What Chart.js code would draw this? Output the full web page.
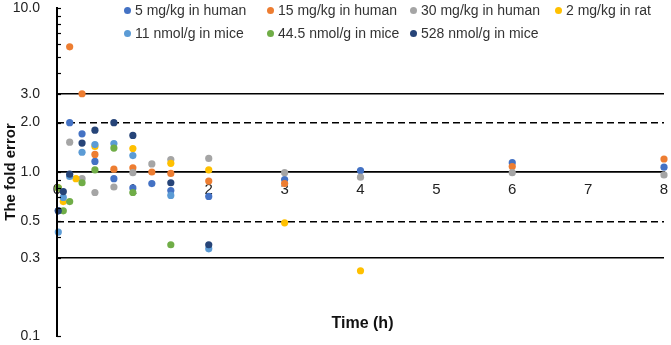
<!DOCTYPE html>
<html>
<head>
<meta charset="utf-8">
<script src="https://cdn.jsdelivr.net/npm/chart.js@4.4.1/dist/chart.umd.min.js"></script>
<style>
  body { margin: 0; background: #fff; }
  #wrap { position: relative; width: 671px; height: 345px; font-family: "Liberation Sans", Arial, sans-serif; }
  #legend .item { position: absolute; font-size: 14px; color: #333; white-space: nowrap; line-height: 16px; }
  #legend .dot { display: inline-block; width: 7px; height: 7px; border-radius: 50%; margin-right: 4px; vertical-align: 1px; }
  #xtitle { position: absolute; left: 0; width: 671px; top: 314px; text-align: center; padding-left: 54px; box-sizing: border-box;
            font-size: 16px; font-weight: bold; color: #111; }
</style>
</head>
<body>
<div id="wrap">
  <canvas id="foldErrorChart" width="671" height="345"></canvas>
  <div id="legend"></div>
  <div id="xtitle">Time (h)</div>
</div>
<script>
// series names (legend order)
const seriesNames = [
    '5 mg/kg in human', '15 mg/kg in human', '30 mg/kg in human', '2 mg/kg in rat',
    '11 nmol/g in mice', '44.5 nmol/g in mice', '528 nmol/g in mice'
];

// time (h) and fold error
const time5mgHuman = [0.017, 0.167, 0.33, 0.5, 0.75, 1, 1.25, 1.5, 2, 3, 4, 6, 8];
const fold5mgHuman = [0.58, 2.0, 1.71, 1.16, 0.91, 0.80, 0.85, 0.77, 0.71, 0.90, 1.02, 1.14, 1.07];

const time15mgHuman = [0.167, 0.33, 0.5, 0.75, 1, 1.25, 1.5, 2, 3, 6, 8];
const fold15mgHuman = [5.8, 3.0, 1.28, 1.04, 1.06, 1.0, 0.98, 0.88, 0.85, 1.08, 1.20];

const time30mgHuman = [0.167, 0.33, 0.5, 0.75, 1, 1.25, 1.5, 2, 3, 4, 6, 8];
const fold30mgHuman = [1.52, 0.91, 0.75, 0.81, 0.99, 1.12, 1.19, 1.21, 0.99, 0.93, 0.99, 0.96];

const time2mgRat = [0.017, 0.083, 0.25, 0.5, 1, 1.5, 2, 3, 4];
const fold2mgRat = [0.80, 0.66, 0.91, 1.43, 1.39, 1.13, 1.03, 0.49, 0.25];

const time11nmolMice = [0.017, 0.083, 0.167, 0.33, 0.5, 0.75, 1, 1.5, 2];
const fold11nmolMice = [0.43, 0.70, 0.94, 1.32, 1.47, 1.49, 1.26, 0.72, 0.34];

const time44nmolMice = [0.017, 0.083, 0.167, 0.33, 0.5, 0.75, 1, 1.5];
const fold44nmolMice = [0.80, 0.58, 0.66, 0.86, 1.03, 1.40, 0.75, 0.36];

const time528nmolMice = [0.017, 0.083, 0.167, 0.33, 0.5, 0.75, 1, 1.5, 2];
const fold528nmolMice = [0.58, 0.76, 0.97, 1.50, 1.80, 2.0, 1.67, 0.86, 0.36];

const seriesTimes = [time5mgHuman, time15mgHuman, time30mgHuman, time2mgRat, time11nmolMice, time44nmolMice, time528nmolMice];
const seriesFolds = [fold5mgHuman, fold15mgHuman, fold30mgHuman, fold2mgRat, fold11nmolMice, fold44nmolMice, fold528nmolMice];
const seriesColors = ['#4472C4', '#ED7D31', '#A5A5A5', '#FFC000', '#5B9BD5', '#70AD47', '#264478'];

// y axis: log ticks, only some are labelled
const yTicks = [0.1, 0.2, 0.3, 0.4, 0.5, 0.6, 0.7, 0.8, 0.9, 1, 2, 3, 4, 5, 6, 7, 8, 9, 10];
const yLabels = { 0.1: '0.1', 0.3: '0.3', 0.5: '0.5', 1: '1.0', 2: '2.0', 3: '3.0', 10: '10.0' };
const solidLines = [0.3, 1, 3];
const dashedLines = [0.5, 2];

// legend (html, grid like the original)
const legendCols = [124, 267, 410, 555];
const legendRows = [2, 25];
const legendEl = document.getElementById('legend');
seriesNames.forEach((name, i) => {
    const item = document.createElement('div');
    item.className = 'item';
    item.style.left = legendCols[i < 4 ? i : i - 4] + 'px';
    item.style.top = legendRows[i < 4 ? 0 : 1] + 'px';
    item.innerHTML = '<span class="dot" style="background:' + seriesColors[i] + '"></span>' + name;
    legendEl.appendChild(item);
});

// y axis line at the left of the plot with small inward ticks
const yAxisLine = {
    id: 'yAxisLine',
    afterDraw(chart) {
        const c = chart.ctx;
        const ys = chart.scales.y;
        const px = Math.round(chart.chartArea.left);
        c.save();
        c.strokeStyle = '#000';
        c.lineWidth = 2;
        c.beginPath();
        c.moveTo(px, ys.top - 1);
        c.lineTo(px, ys.bottom + 1);
        c.stroke();
        c.lineWidth = 1.2;
        yTicks.forEach(v => {
            const py = Math.round(ys.getPixelForValue(v)) + 0.5;
            c.beginPath();
            c.moveTo(px, py);
            c.lineTo(px + 4, py);
            c.stroke();
        });
        c.restore();
    }
};

const datasets = seriesNames.map((name, i) => ({
    label: name,
    data: seriesTimes[i].map((t, j) => ({ x: t, y: seriesFolds[i][j] })),
    backgroundColor: seriesColors[i],
    borderWidth: 0,
    pointRadius: 3.6,
    pointHoverRadius: 4,
    clip: false,
    order: -i
}));

const ctx = document.getElementById('foldErrorChart').getContext('2d');
new Chart(ctx, {
    type: 'scatter',
    data: { datasets: datasets },
    plugins: [yAxisLine],
    options: {
        responsive: false,
        animation: false,
        layout: { padding: { top: 8, bottom: 9, right: 7, left: 0 } },
        plugins: {
            legend: { display: false },
            tooltip: { enabled: true }
        },
        scales: {
            x: {
                type: 'linear',
                min: 0,
                max: 8,
                position: { y: 1 },
                afterFit: (scale) => {
                    scale.height = 0;
                    scale.paddingLeft = 0;
                    scale.paddingRight = 0;
                },
                grid: { display: false, drawTicks: false },
                border: { display: true, color: '#000', width: 1.5 },
                ticks: {
                    stepSize: 1,
                    padding: 9,
                    color: '#222',
                    font: { family: 'Liberation Sans', size: 15 }
                }
            },
            y: {
                type: 'logarithmic',
                min: 0.1,
                max: 10,
                afterFit: (scale) => {
                    scale.width = 57;
                    scale.paddingTop = 0;
                    scale.paddingBottom = 0;
                },
                afterBuildTicks: (scale) => {
                    scale.ticks = yTicks.map(v => ({ value: v }));
                },
                title: {
                    display: true,
                    text: 'The fold error',
                    color: '#111',
                    padding: { top: 2, bottom: 0 },
                    font: { family: 'Liberation Sans', size: 15, weight: 'bold' }
                },
                grid: {
                    color: (c) => {
                        if (!c.tick) return 'rgba(0,0,0,0)';
                        const v = c.tick.value;
                        return (solidLines.includes(v) || dashedLines.includes(v)) ? '#000' : 'rgba(0,0,0,0)';
                    },
                    lineWidth: 1.5,
                    drawTicks: false
                },
                border: {
                    display: false,
                    dash: (c) => (c.tick && dashedLines.includes(c.tick.value)) ? [7, 4] : []
                },
                ticks: {
                    autoSkip: false,
                    padding: 17,
                    color: '#222',
                    font: { family: 'Liberation Sans', size: 14 },
                    callback: (v) => yLabels[v] || ''
                }
            }
        }
    }
});
</script>
</body>
</html>
